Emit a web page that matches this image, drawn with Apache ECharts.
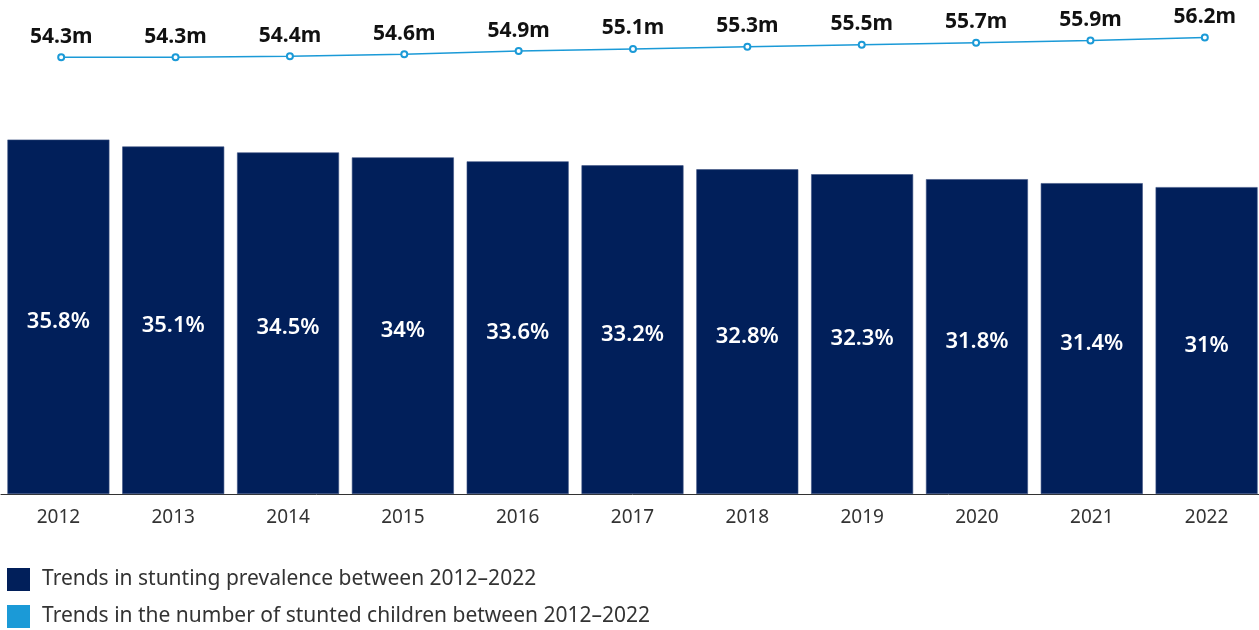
<!DOCTYPE html>
<html>
<head>
<meta charset="utf-8">
<script src="https://cdn.jsdelivr.net/npm/echarts@6/dist/echarts.min.js"></script>
<style>
  html, body { margin: 0; padding: 0; background: #fff; overflow: hidden; }
  #chart { width: 1266px; height: 630px; }
</style>
</head>
<body>
<div id="chart"></div>
<script>
// Stunting trends, 2012–2022
const years = ['2012', '2013', '2014', '2015', '2016', '2017', '2018', '2019', '2020', '2021', '2022'];
// Stunting prevalence (%)
const prevalence = [35.8, 35.1, 34.5, 34, 33.6, 33.2, 32.8, 32.3, 31.8, 31.4, 31];
// Number of stunted children (millions)
const stuntedMillions = [54.3, 54.3, 54.4, 54.6, 54.9, 55.1, 55.3, 55.5, 55.7, 55.9, 56.2];

const prevalenceName = 'Trends in stunting prevalence between 2012–2022';
const countName = 'Trends in the number of stunted children between 2012–2022';

const NAVY = '#011f5a';
const BLUE = '#1b9ad7';
const FONT = '"Noto Sans", sans-serif';

// one legend block per series, stacked at the bottom left
function legendBlock(name, color, top) {
  return {
    left: 7,
    top: top,
    padding: 0,
    itemWidth: 23,
    itemHeight: 23,
    icon: 'rect',
    textStyle: { fontFamily: FONT, fontSize: 21, color: '#333', padding: [0, 0, 0, 7] },
    data: [{ name: name, itemStyle: { color: color, borderWidth: 0 } }]
  };
}

const chart = echarts.init(document.getElementById('chart'));
chart.setOption({
  animation: false,
  textStyle: { fontFamily: FONT },
  grid: [
    { left: 1, width: 1263, top: 98, height: 396 },
    { left: 4, width: 1258, top: 29, height: 42 }
  ],
  legend: [
    legendBlock(prevalenceName, NAVY, 568),
    legendBlock(countName, BLUE, 605)
  ],
  xAxis: [
    {
      gridIndex: 0,
      type: 'category',
      data: years,
      axisLine: { lineStyle: { color: '#333', width: 1 } },
      axisTick: { show: false },
      axisLabel: { color: '#333', fontSize: 19, fontFamily: FONT, margin: 14 }
    },
    {
      gridIndex: 1,
      type: 'category',
      data: years,
      show: false
    }
  ],
  yAxis: [
    { gridIndex: 0, type: 'value', min: 0, max: 40, show: false },
    { gridIndex: 1, type: 'value', min: 53, max: 57, show: false }
  ],
  series: [
    {
      name: prevalenceName,
      type: 'bar',
      xAxisIndex: 0,
      yAxisIndex: 0,
      data: prevalence,
      barWidth: 102,
      itemStyle: { color: NAVY, borderColor: '#3c5283', borderWidth: 0.6 },
      label: {
        show: true,
        position: 'inside',
        offset: [0, 5],
        color: '#fff',
        fontSize: 22,
        fontWeight: 600,
        fontFamily: FONT,
        formatter: p => p.value + '%'
      }
    },
    {
      name: countName,
      type: 'line',
      xAxisIndex: 1,
      yAxisIndex: 1,
      data: stuntedMillions,
      color: BLUE,
      lineStyle: { color: BLUE, width: 1.5 },
      symbol: 'emptyCircle',
      symbolSize: 6,
      itemStyle: { color: BLUE, borderWidth: 1.2 },
      label: {
        show: true,
        position: 'top',
        distance: 6,
        color: '#111',
        fontSize: 21,
        fontWeight: 'bold',
        fontFamily: FONT,
        formatter: p => p.value + 'm'
      }
    }
  ]
});
</script>
</body>
</html>
